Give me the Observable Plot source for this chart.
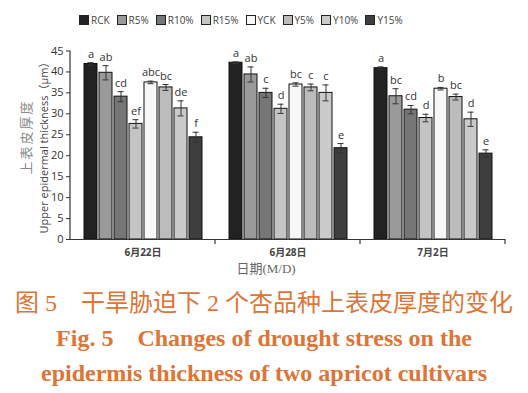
<!DOCTYPE html>
<html>
<head>
<meta charset="utf-8">
<script src="https://cdn.jsdelivr.net/npm/d3@7"></script>
<script src="https://cdn.jsdelivr.net/npm/@observablehq/plot@0.6"></script>
<style>
  html, body { margin: 0; padding: 0; background: #fff; }
  #wrap { position: relative; width: 528px; height: 393px; overflow: hidden; background: #fff; font-family: "Open Sans", "Noto Sans CJK SC", sans-serif; }
  #chart { position: absolute; left: 0; top: 0; }
  #legend { position: absolute; left: 79px; top: 13px; display: flex; gap: 7px; font-size: 10px; color: #444; font-family: "Open Sans", sans-serif; }
  #legend .item { display: flex; align-items: center; gap: 2px; }
  #legend .sw { width: 8px; height: 8px; border: 1px solid #222; }
  .ylab { position: absolute; white-space: nowrap; transform: translate(-50%, -50%) rotate(-90deg); }
  #ylab1 { left: 25px; top: 137px; font-size: 13px; letter-spacing: 2px; color: #8a8a8a; font-family: "Noto Sans CJK SC", sans-serif; }
  #ylab2 { left: 43px; top: 145px; font-size: 11px; color: #444; font-family: "Open Sans", "Noto Sans CJK SC", sans-serif; }
  #xtitle { position: absolute; left: 0; width: 528px; top: 258px; text-align: center; font-size: 13px; color: #666; font-family: "Liberation Serif", "Noto Sans CJK SC", serif; padding-left: 2px; }
  .cap { position: absolute; left: 0; width: 528px; text-align: center; color: #de7436; white-space: nowrap; }
  #cap1 { top: 283px; font-size: 24px; font-family: "Liberation Serif", "Noto Sans CJK SC", serif; }
  #cap2 { top: 322px; font-size: 24px; font-weight: bold; font-family: "Liberation Serif", serif; }
  #cap3 { top: 360px; font-size: 24px; font-weight: bold; font-family: "Liberation Serif", serif; }
</style>
</head>
<body>
<div id="wrap">
  <div id="chart"></div>
  <div id="legend"></div>
  <div class="ylab" id="ylab1">上表皮厚度</div>
  <div class="ylab" id="ylab2">Upper epidermal thickness（μm）</div>
  <div id="xtitle">日期(M/D)</div>
  <div class="cap" id="cap1">图 5　干旱胁迫下 2 个杏品种上表皮厚度的变化</div>
  <div class="cap" id="cap2">Fig. 5　Changes of drought stress on the</div>
  <div class="cap" id="cap3">epidermis thickness of two apricot cultivars</div>
</div>
<script>
const dates = ["6月22日", "6月28日", "7月2日"];
const treatments = ["RCK", "R5%", "R10%", "R15%", "YCK", "Y5%", "Y10%", "Y15%"];
const colors = ["#222222", "#9a9a9a", "#767676", "#c4c4c4", "#f7f7f7", "#bcbcbc", "#cacaca", "#3e3e3e"];

const mean0622 = [41.9, 39.8, 34.1, 27.6, 37.5, 36.3, 31.3, 24.4];
const se0622   = [0.3, 1.7, 1.2, 1.0, 0.3, 0.7, 1.8, 1.2];
const sig0622  = ["a", "ab", "cd", "ef", "abc", "bc", "de", "f"];

const mean0628 = [42.2, 39.4, 35.0, 31.2, 37.0, 36.3, 35.0, 21.8];
const se0628   = [0.2, 1.8, 1.1, 1.1, 0.4, 0.8, 1.9, 1.1];
const sig0628  = ["a", "ab", "c", "d", "bc", "c", "c", "e"];

const mean0702 = [40.9, 34.2, 31.0, 29.0, 36.0, 34.0, 28.7, 20.5];
const se0702   = [0.3, 1.8, 1.0, 0.9, 0.3, 0.7, 1.7, 0.9];
const sig0702  = ["a", "bc", "cd", "d", "b", "bc", "d", "e"];

const yTicks = [0, 5, 10, 15, 20, 25, 30, 35, 40, 45];

const groups = [
  [dates[0], mean0622, se0622, sig0622],
  [dates[1], mean0628, se0628, sig0628],
  [dates[2], mean0702, se0702, sig0702]
];
const data = groups.flatMap(([date, m, s, g]) =>
  treatments.map((t, i) => ({date, t, mean: m[i], lo: m[i] - s[i], hi: m[i] + s[i], sig: g[i]}))
);

// legend
const legend = document.getElementById("legend");
treatments.forEach((t, i) => {
  const it = document.createElement("div");
  it.className = "item";
  it.innerHTML = `<span class="sw" style="background:${colors[i]}"></span><span>${t}</span>`;
  legend.appendChild(it);
});

const plot = Plot.plot({
  width: 528,
  height: 280,
  marginLeft: 70,
  marginRight: 23,
  marginTop: 50.5,
  marginBottom: 41,
  style: {fontFamily: "Open Sans, Noto Sans CJK SC, sans-serif", fontSize: "11px", color: "#333", background: "transparent"},
  fx: {domain: dates, paddingInner: 0, paddingOuter: 0, label: null, tickSize: 0, tickPadding: 9},
  x: {domain: treatments, paddingInner: 0.16, paddingOuter: 0.7, axis: null},
  y: {domain: [0, 45], ticks: yTicks, tickSize: 4, tickPadding: 3, label: null},
  color: {domain: treatments, range: colors},
  marks: [
    Plot.barY(data, {fx: "date", x: "t", y: "mean", fill: "t", stroke: "#111", strokeWidth: 1}),
    Plot.ruleX(data, {fx: "date", x: "t", y1: "lo", y2: "hi", stroke: "#333", strokeWidth: 1}),
    Plot.tickY(data, {fx: "date", x: "t", y: "hi", stroke: "#333", strokeWidth: 1, insetLeft: 3.5, insetRight: 3.5}),
    Plot.tickY(data, {fx: "date", x: "t", y: "lo", stroke: "#333", strokeWidth: 1, insetLeft: 3.5, insetRight: 3.5}),
    Plot.text(data, {fx: "date", x: "t", y: "hi", text: "sig", lineAnchor: "bottom", dy: -5, fontSize: 11, fill: "#333"}),
    Plot.ruleY([0], {stroke: "#333", strokeWidth: 1.2})
  ]
});

document.getElementById("chart").appendChild(plot);

// axis line on the left and tick marks at the date-group boundaries, from the plot's own scales
const fx = plot.scale("fx");
const ys = plot.scale("y");
const svg = d3.select(plot);
const y0 = ys.apply(0), yTop = ys.apply(45);
const left = fx.apply(dates[0]);
const g = svg.append("g").attr("stroke", "#333").attr("stroke-width", 1.2);
g.append("line").attr("x1", left).attr("x2", left).attr("y1", yTop).attr("y2", y0);
dates.forEach(d => {
  const xr = fx.apply(d) + fx.bandwidth;
  g.append("line").attr("x1", xr).attr("x2", xr).attr("y1", y0).attr("y2", y0 + 5);
});
svg.selectAll("[aria-label='fx-axis tick label'] text, [aria-label='fx-axis tick label']").attr("font-size", 10).attr("font-weight", "bold").attr("fill", "#444");
</script>
</body>
</html>
